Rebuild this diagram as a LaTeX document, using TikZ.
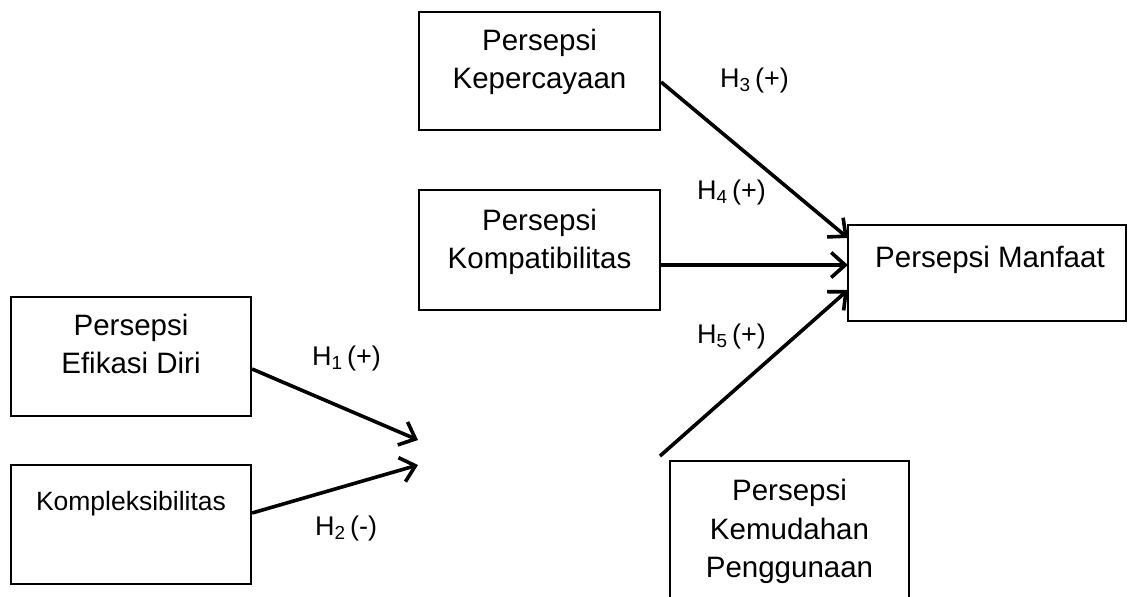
\documentclass[tikz,border=0pt]{standalone}
\usepackage{fontspec}
\setmainfont{Liberation Sans}
\usetikzlibrary{arrows.meta,calc}
\tikzset{
  box/.style={draw=black, line width=2.2pt, fill=white, inner sep=0pt},
  txt/.style={anchor=base, inner sep=0pt, font=\fontsize{29.5}{38}\selectfont},
  smalltxt/.style={anchor=base, inner sep=0pt, font=\fontsize{26.5}{34}\selectfont},
  hyp/.style={anchor=base west, inner sep=0pt, font=\fontsize{27}{32}\selectfont},
  link/.style={line width=3.6pt, -{Straight Barb[length=14pt,width=25pt,line width=3.6pt]}}
}
\begin{document}
\begin{tikzpicture}[x=1pt,y=-1pt]
\clip (0,0) rectangle (1128,597);
\fill[white] (0,0) rectangle (1128,597);
% boxes
\node[box, minimum width=241pt, minimum height=118pt] (kep) at (539.5,71) {};
\node[box, minimum width=241pt, minimum height=120pt] (kom) at (539.5,250) {};
\node[box, minimum width=278pt, minimum height=96pt] (man) at (987,273) {};
\node[box, minimum width=240pt, minimum height=119pt] (efi) at (131,356.5) {};
\node[box, minimum width=240pt, minimum height=119pt] (kpx) at (131,524.5) {};
\node[box, minimum width=239pt, minimum height=150pt] (kem) at (789.5,536) {};
% texts
\node[txt] (kep1) at (539.5,50) {Persepsi};
\node[txt] (kep2) at (539.5,88) {Kepercayaan};
\node[txt] (kom1) at (539.5,230) {Persepsi};
\node[txt] (kom2) at (539.5,268) {Kompatibilitas};
\node[txt] (man1) at (990,267) {Persepsi Manfaat};
\node[txt] (efi1) at (131,335) {Persepsi};
\node[txt] (efi2) at (131,373) {Efikasi Diri};
\node[smalltxt] (kpx1) at (131,510) {Kompleksibilitas};
\node[txt] (kem1) at (789.5,500) {Persepsi};
\node[txt] (kem2) at (789.5,539) {Kemudahan};
\node[txt] (kem3) at (789.5,577) {Penggunaan};
% free ends
\coordinate (j1) at (418,440);
\coordinate (j2) at (418,465);
\coordinate (s5) at (660,456);
% connectors
\draw[link] ([yshift=-11pt]kep.east) -- ([yshift=35pt,xshift=1pt]man.west);
\draw[link] ([yshift=-15pt]kom.east) -- ([yshift=8pt,xshift=1pt]man.west);
\draw[link] (s5) -- ([yshift=-17pt,xshift=1pt]man.west);
\draw[link] ([yshift=-12.5pt]efi.east) -- (j1);
\draw[link] ([yshift=11.5pt]kpx.east) -- (j2);
% hypothesis labels
\node[hyp] (h3) at (720,87) {H\textsubscript{3}\,(+)};
\node[hyp] (h4) at (697,199) {H\textsubscript{4}\,(+)};
\node[hyp] (h5) at (697,343) {H\textsubscript{5}\,(+)};
\node[hyp] (h1) at (312,365) {H\textsubscript{1}\,(+)};
\node[hyp] (h2) at (315,535) {H\textsubscript{2}\,(-)};
\end{tikzpicture}
\end{document}
